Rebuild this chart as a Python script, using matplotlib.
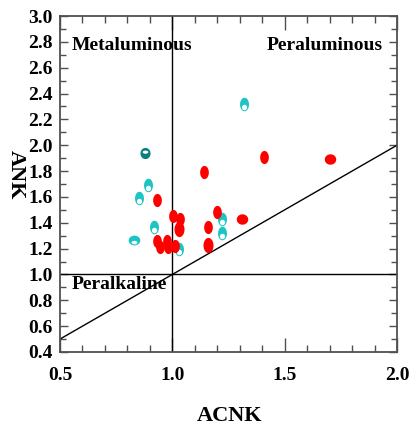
import numpy as np
import matplotlib
matplotlib.use('Agg')
from matplotlib import pyplot as plt
from matplotlib.path import Path

# sample points (ACNK, ANK)
cyan_x = [1.32, 0.89, 0.85, 0.92, 1.03, 1.22, 1.22]
cyan_y = [2.32, 1.69, 1.59, 1.37, 1.20, 1.43, 1.32]
cyan_wide_x = [0.83]
cyan_wide_y = [1.27]
teal_x = [0.88]
teal_y = [1.94]
red_x = [1.41, 1.14, 0.93, 1.005, 1.035, 1.20, 1.16, 0.93, 0.945, 0.975, 0.98, 1.01]
red_y = [1.91, 1.79, 1.58, 1.45, 1.43, 1.48, 1.37, 1.26, 1.21, 1.26, 1.21, 1.22]
red_tall_x = [1.03, 1.16]
red_tall_y = [1.35, 1.23]
red_wide_x = [1.70, 1.31]
red_wide_y = [1.89, 1.43]

x_range = [0.5, 2.0]
y_range = [0.4, 3.0]


def ellipse(a, b, cx=0.0, cy=0.0, reverse=False):
    t = np.linspace(0, 2 * np.pi, 60)
    if reverse:
        t = t[::-1]
    return np.column_stack([cx + a * np.cos(t), cy + b * np.sin(t)])


def marker(a, b, hole=None):
    outer = ellipse(a, b)
    verts = [outer]
    codes = [[Path.MOVETO] + [Path.LINETO] * (len(outer) - 2) + [Path.CLOSEPOLY]]
    if hole is not None:
        inner = ellipse(*hole, reverse=True)
        verts.append(inner)
        codes.append([Path.MOVETO] + [Path.LINETO] * (len(inner) - 2) + [Path.CLOSEPOLY])
    return Path(np.vstack(verts), np.concatenate(codes))


plt.rcParams['font.family'] = 'Liberation Serif'
plt.rcParams['font.weight'] = 'bold'

fig = plt.figure(figsize=(4.11, 4.28), dpi=100)
ax = fig.add_axes([60 / 411, 1 - 352 / 428, 337 / 411, 336 / 428])

# reference lines
ax.plot(x_range, x_range, color='black', lw=1, zorder=2)
ax.axvline(1.0, color='black', lw=1, zorder=2)
ax.axhline(1.0, color='black', lw=1, zorder=2)

cyan_m = marker(0.33, 0.5, hole=(0.19, 0.2, 0.0, -0.22))
cyan_wide_m = marker(0.5, 0.42, hole=(0.25, 0.15, 0.0, -0.18))
teal_m = marker(0.45, 0.5, hole=(0.25, 0.14, 0.0, 0.12))
red_m = marker(0.33, 0.5)
red_wide_m = marker(0.55, 0.5)

ax.scatter(cyan_x, cyan_y, marker=cyan_m, s=95, color='#1cc4c4', lw=0, zorder=3)
ax.scatter(cyan_wide_x, cyan_wide_y, marker=cyan_wide_m, s=70, color='#1cc4c4', lw=0, zorder=3)
ax.scatter(teal_x, teal_y, marker=teal_m, s=65, color='#0a7f7f', lw=0, zorder=3)
ax.scatter(red_x, red_y, marker=red_m, s=90, color='#ff0000', lw=0, zorder=4)
ax.scatter(red_tall_x, red_tall_y, marker=red_m, s=120, color='#ff0000', lw=0, zorder=4)
ax.scatter(red_wide_x, red_wide_y, marker=red_wide_m, s=68, color='#ff0000', lw=0, zorder=4)

ax.text(0.553, 2.77, 'Metaluminous', fontsize=14, fontweight='bold', va='center', ha='left')
ax.text(1.936, 2.77, 'Peraluminous', fontsize=14, fontweight='bold', va='center', ha='right')
ax.text(0.553, 0.92, 'Peralkaline', fontsize=14, fontweight='bold', va='center', ha='left')

ax.set_xlim(x_range)
ax.set_ylim(y_range)
ax.set_xticks([0.5, 1.0, 1.5, 2.0])
ax.set_xticks(np.arange(0.5, 2.0, 0.1), minor=True)
ax.set_yticks(np.arange(0.4, 3.01, 0.2))
ax.set_yticks(np.arange(0.4, 3.0, 0.1), minor=True)
ax.xaxis.set_major_formatter(plt.FormatStrFormatter('%.1f'))
ax.yaxis.set_major_formatter(plt.FormatStrFormatter('%.1f'))

ax.tick_params(which='both', direction='in', top=True, right=True, color='#505050', width=1)
ax.tick_params(axis='x', which='major', length=10, pad=11, labelsize=14)
ax.tick_params(axis='x', which='minor', length=5)
ax.tick_params(axis='y', which='major', length=6, pad=5, labelsize=14)
ax.tick_params(axis='y', which='minor', length=4)
for sp in ax.spines.values():
    sp.set_color('#505050')
    sp.set_linewidth(1.3)

ax.set_xlabel('ACNK', fontsize=16, fontweight='bold', va='center')
ax.xaxis.set_label_coords(0.503, -0.19)
ax.set_ylabel('ANK', fontsize=16, fontweight='bold', rotation=-90, va='center')
ax.yaxis.set_label_coords(-0.13, 0.527)

plt.savefig('out.png', dpi=100)
